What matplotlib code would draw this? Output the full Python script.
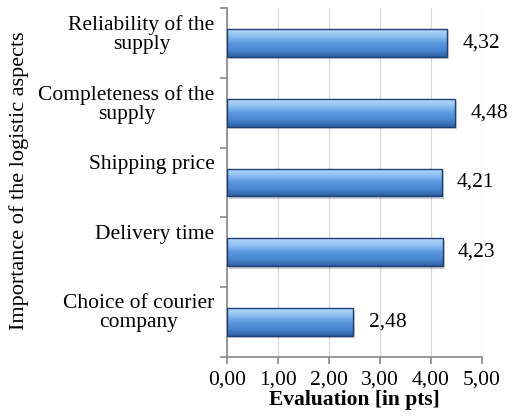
import numpy as np
import matplotlib
matplotlib.use('Agg')
import matplotlib.pyplot as plt
import matplotlib.transforms as mtransforms
from matplotlib.colors import LinearSegmentedColormap

plt.rcParams['font.family'] = ['Liberation Serif', 'DejaVu Serif']

# ── data (top to bottom) ──────────────────────────────────────────────────────
categories = ['Reliability of the\nsupply', 'Completeness of the\nsupply',
              'Shipping price', 'Delivery time', 'Choice of courier\ncompany']
values = [4.32, 4.48, 4.21, 4.23, 2.48]
xticks = [0, 1, 2, 3, 4, 5]

FS = 15.5

fig = plt.figure(figsize=(5.17, 4.19), dpi=100)
ax = fig.add_axes([0.439, 0.148, 0.493, 0.833])

pos = np.arange(len(categories))
height = 0.4

# soft shadow
ax.barh(pos + 0.035, values, height=height, left=0.04, color='#000000',
        alpha=0.18, zorder=2, linewidth=0)
bars = ax.barh(pos, values, height=height, color='none',
               edgecolor='#1d3f73', linewidth=1.0, zorder=4)

# vertical gradient inside each bar (light on top, darker below)
cmap = LinearSegmentedColormap.from_list(
    'bevel', ['#b9d8f7', '#8fc0f2', '#5b98e0', '#4a87d2', '#2c5fa3'])
grad = np.linspace(0, 1, 64).reshape(-1, 1)
for b in bars:
    x0, y0, w, h = b.get_x(), b.get_y(), b.get_width(), b.get_height()
    im = ax.imshow(grad, cmap=cmap, aspect='auto', origin='upper',
                   extent=(x0, x0 + w, y0 + h, y0), zorder=3,
                   interpolation='bicubic')
    im.set_clip_path(b)

for p, v in zip(pos, values):
    ax.annotate(f'{v:.2f}'.replace('.', ','), (v, p), xytext=(11, 0),
                textcoords='offset points', va='center', ha='left',
                fontsize=FS)

ax.set_xlim(0, 5)
ax.set_ylim(len(categories) - 0.5, -0.5)
ax.set_xticks(xticks)
ax.set_xticklabels([f'{t:.2f}'.replace('.', ',') for t in xticks], fontsize=FS)
ax.grid(axis='x', color='#d9d9d9', linewidth=0.9, zorder=0)
ax.set_axisbelow(True)

# category boundaries as major ticks, labels on minor ticks
ax.set_yticks(np.arange(-0.5, len(categories), 1.0))
ax.set_yticklabels([])
ax.set_yticks(pos, minor=True)
ax.set_yticklabels(categories, minor=True, fontsize=FS)
ax.tick_params(axis='y', which='minor', length=0, pad=9)
ax.tick_params(axis='both', which='major', length=5, color='#888888',
               width=1.2, direction='out')
ax.tick_params(axis='x', pad=5)
offset = mtransforms.ScaledTranslation(0, 20 / 72, fig.dpi_scale_trans)
for lab in ax.get_yticklabels(minor=True):
    lab.set_multialignment('center')
    lab.set_linespacing(1.0)
    lab.set_va('top')
    lab.set_transform(lab.get_transform() + offset)

for s in ['top', 'right']:
    ax.spines[s].set_visible(False)
for s in ['left', 'bottom']:
    ax.spines[s].set_color('#888888')
    ax.spines[s].set_linewidth(1.2)

ax.set_xlabel('Evaluation [in pts]', fontsize=FS, fontweight='bold', labelpad=0)
fig.text(0.037, 0.568, 'Importance of the logistic aspects', rotation=90,
         ha='center', va='center', fontsize=16)

fig.savefig('out.png', dpi=100)
